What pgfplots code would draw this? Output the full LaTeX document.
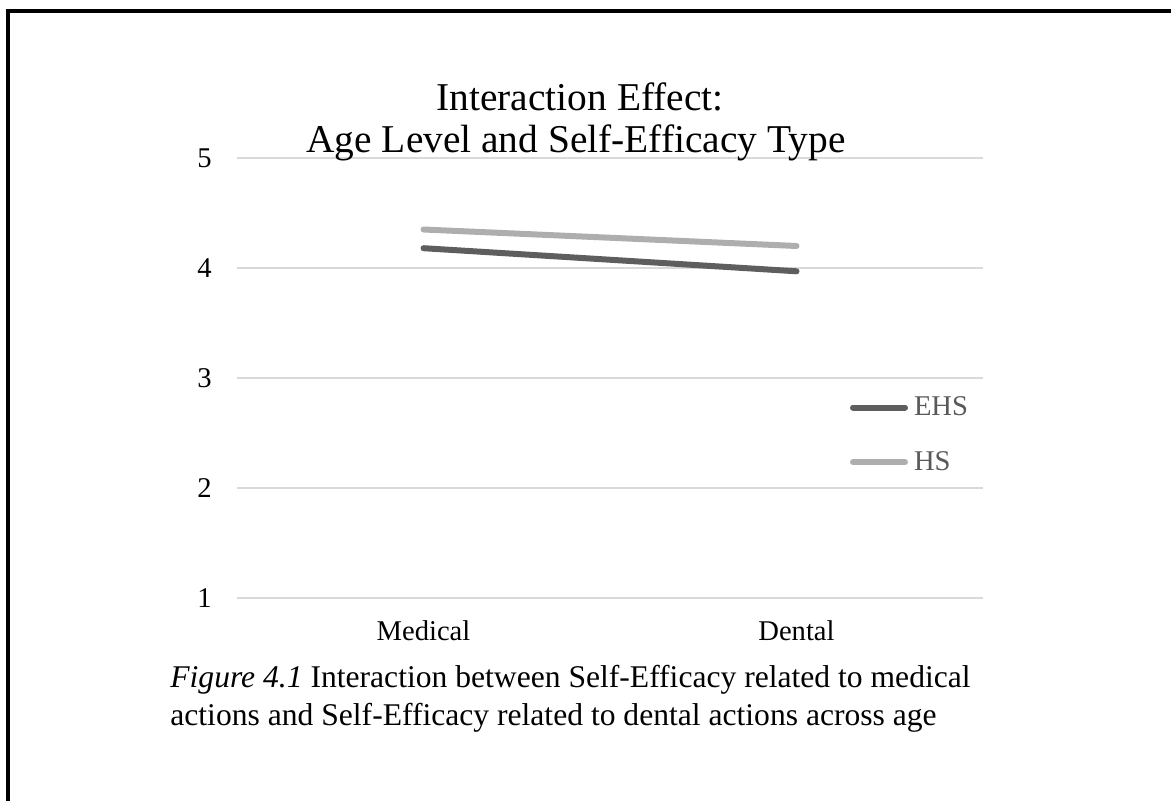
\documentclass[border=0pt]{standalone}
\usepackage{pgfplots}
\pgfplotsset{compat=1.18}
\usepackage{fontspec}
\setmainfont{Liberation Serif}
\definecolor{ehs}{HTML}{5E5E5E}
\definecolor{hs}{HTML}{AEAEAE}
\definecolor{gridc}{HTML}{D9D9D9}
\definecolor{legtext}{HTML}{595959}
\begin{document}
\begin{tikzpicture}
\useasboundingbox (0,0) rectangle (585.5pt,400.5pt);
\draw[line width=2pt] (4pt,0pt) -- (4pt,395pt) -- (586pt,395pt);
\begin{axis}[
  at={(118.5pt,101.5pt)}, anchor=south west,
  scale only axis, width=373pt, height=220pt,
  xmin=-0.5, xmax=1.5, ymin=1, ymax=5,
  xtick={0,1}, xticklabels={Medical,Dental},
  ytick={1,2,3,4,5}, yticklabels={1,2,3,4,5},
  axis line style={draw=none},
  major tick length=0pt,
  ymajorgrids, grid style={gridc, line width=0.75pt},
  tick label style={font=\rmfamily\fontsize{14.3pt}{17pt}\selectfont, text=black},
  /pgf/number format/assume math mode=true,
  xticklabel style={anchor=base, yshift=-21.5pt},
  yticklabel style={anchor=east, inner sep=0pt, xshift=-12.5pt},
  clip=false,
  legend style={at={(axis description cs:0.8217,0.3705)}, anchor=west,
    draw=none, fill=none, inner sep=0pt, outer sep=0pt,
    row sep=16.5pt, column sep=3pt,
    font=\fontsize{14.3pt}{17pt}\selectfont, text=legtext,
    nodes={inner sep=0pt}, cells={anchor=west}},
  legend image code/.code={\draw[#1] (0pt,0pt) -- (26pt,0pt);},
]
\addplot[ehs, line width=3pt, line cap=round] coordinates {(0,4.18) (1,3.97)};
\addlegendentry{EHS}
\addplot[hs, line width=3pt, line cap=round] coordinates {(0,4.35) (1,4.20)};
\addlegendentry{HS}
\end{axis}
\node[anchor=base, inner sep=0pt, font=\fontsize{19.7pt}{23pt}\selectfont] at (290pt,345pt) {Interaction Effect:};
\node[anchor=base, inner sep=0pt, font=\fontsize{19.7pt}{23pt}\selectfont] at (288pt,324pt) {Age Level and Self-Efficacy Type};
\node[anchor=base west, inner sep=0pt, font=\fontsize{15.8pt}{19pt}\selectfont] at (85pt,56.5pt) {\textit{Figure 4.1} Interaction between Self-Efficacy related to medical};
\node[anchor=base west, inner sep=0pt, font=\fontsize{15.8pt}{19pt}\selectfont] at (85pt,37.5pt) {actions and Self-Efficacy related to dental actions across age};
\end{tikzpicture}
\end{document}
